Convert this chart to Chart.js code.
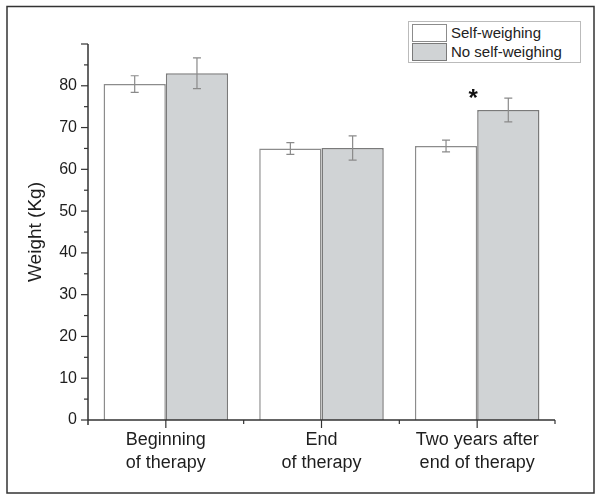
<!DOCTYPE html>
<html>
<head>
<meta charset="utf-8">
<script src="https://cdn.jsdelivr.net/npm/chart.js@4"></script>
<style>
  body { margin: 0; background: #fff; }
  #wrap { position: relative; width: 602px; height: 501px; }
</style>
</head>
<body>
<div id="wrap"><canvas id="chart" width="602" height="501"></canvas></div>
<script>
// data
const categories = [["Beginning", "of therapy"], ["End", "of therapy"], ["Two years after", "end of therapy"]];
const selfWeighing = [80.4, 65.0, 65.6];
const selfWeighingErr = [2.0, 1.4, 1.4];
const noSelfWeighing = [83.0, 65.1, 74.2];
const noSelfWeighingErr = [3.7, 2.9, 2.85];
const yTicks = [0, 10, 20, 30, 40, 50, 60, 70, 80];
const starAt = { category: 2, value: 77.8, text: "*" };

const axisColor = "#333";
const textColor = "#1e1e1e";

// error bars, axis ticks, asterisk and frame
const extras = {
  id: "extras",
  afterDatasetsDraw(chart) {
    const ctx = chart.ctx;
    const y = chart.scales.y;
    const errs = [selfWeighingErr, noSelfWeighingErr];
    ctx.save();
    ctx.strokeStyle = "#8a8a8a";
    ctx.lineWidth = 1.2;
    chart.data.datasets.forEach((ds, di) => {
      chart.getDatasetMeta(di).data.forEach((bar, i) => {
        const v = ds.data[i], e = errs[di][i];
        const top = y.getPixelForValue(v + e), bot = y.getPixelForValue(v - e);
        ctx.beginPath();
        ctx.moveTo(bar.x, top); ctx.lineTo(bar.x, bot);
        ctx.moveTo(bar.x - 4, top); ctx.lineTo(bar.x + 4, top);
        ctx.moveTo(bar.x - 4, bot); ctx.lineTo(bar.x + 4, bot);
        ctx.stroke();
      });
    });
    ctx.restore();
  },
  afterDraw(chart) {
    const ctx = chart.ctx;
    const x = chart.scales.x, y = chart.scales.y;
    const area = chart.chartArea;
    ctx.save();
    ctx.strokeStyle = axisColor;
    ctx.lineWidth = 1.5;
    // axes lines
    ctx.beginPath();
    ctx.moveTo(area.left, area.top);
    ctx.lineTo(area.left, area.bottom + 5);
    ctx.moveTo(area.left, area.bottom);
    ctx.lineTo(area.right, area.bottom);
    ctx.stroke();
    // y ticks: major every 10, minor every 5
    ctx.lineWidth = 1.2;
    for (let v = 0; v <= y.max; v += 5) {
      const py = y.getPixelForValue(v);
      const len = v % 10 === 0 ? 7 : 4;
      ctx.beginPath();
      ctx.moveTo(area.left - len, py);
      ctx.lineTo(area.left, py);
      ctx.stroke();
    }
    // x ticks: long at category centres, short between
    categories.forEach((c, i) => {
      const px = x.getPixelForValue(i);
      ctx.beginPath();
      ctx.moveTo(px, area.bottom);
      ctx.lineTo(px, area.bottom + 8);
      ctx.stroke();
      const edge = x.getPixelForValue(i + 0.5);
      ctx.beginPath();
      ctx.moveTo(edge, area.bottom);
      ctx.lineTo(edge, area.bottom + 4);
      ctx.stroke();
    });
    // asterisk
    ctx.fillStyle = "#111";
    ctx.font = "bold 24px Arial";
    ctx.textAlign = "center";
    ctx.textBaseline = "middle";
    ctx.fillText(starAt.text, x.getPixelForValue(starAt.category) - 4, y.getPixelForValue(starAt.value) + 4);
    // outer frame
    ctx.strokeStyle = "#333";
    ctx.lineWidth = 1.5;
    ctx.strokeRect(7, 6.5, 587, 486.5);
    ctx.restore();
  }
};

new Chart(document.getElementById("chart"), {
  type: "bar",
  data: {
    labels: categories,
    datasets: [
      {
        label: "Self-weighing",
        data: selfWeighing,
        backgroundColor: "#ffffff",
        borderColor: "#8c8c8c",
        borderWidth: 1.5,
        categoryPercentage: 0.8,
        barPercentage: 1.0,
      },
      {
        label: "No self-weighing",
        data: noSelfWeighing,
        backgroundColor: "#d0d3d5",
        borderColor: "#7a7a7a",
        borderWidth: 1.5,
        categoryPercentage: 0.8,
        barPercentage: 1.0,
      },
    ],
  },
  options: {
    responsive: false,
    animation: false,
    layout: { padding: { top: 44, right: 47, left: 0, bottom: 0 } },
    plugins: {
      legend: { display: false },
      tooltip: { enabled: false },
    },
    scales: {
      x: {
        grid: { display: false, drawTicks: false },
        border: { display: false },
        ticks: {
          color: textColor,
          font: { family: "Arial", size: 18, lineHeight: 1.3 },
          padding: 8,
          maxRotation: 0,
        },
        afterFit: (s) => { s.height = 81; },
      },
      y: {
        min: 0,
        max: 90,
        afterBuildTicks: (s) => { s.ticks = yTicks.map((v) => ({ value: v })); },
        grid: { display: false, drawTicks: false },
        border: { display: false },
        ticks: {
          color: textColor,
          font: { family: "Arial", size: 16 },
          padding: 11,
        },
        title: {
          display: true,
          text: "Weight (Kg)",
          color: textColor,
          font: { family: "Arial", size: 19 },
          padding: { top: 24, bottom: 0 },
        },
        afterFit: (s) => { s.width = 88; },
      },
    },
  },
  plugins: [extras],
});
</script>
<div style="position:absolute;left:408px;top:21px;width:171px;height:40px;border:1px solid #bbb;background:#fff;font-family:Arial;font-size:15px;color:#222;">
  <div style="position:absolute;left:3px;top:2px;width:33px;height:16px;border:1.5px solid #8c8c8c;background:#fff;"></div>
  <div style="position:absolute;left:42px;top:2px;line-height:18px;">Self-weighing</div>
  <div style="position:absolute;left:3px;top:21px;width:33px;height:16px;border:1.5px solid #7a7a7a;background:#d0d3d5;"></div>
  <div style="position:absolute;left:42px;top:20px;line-height:19px;">No self-weighing</div>
</div>
</body>
</html>
